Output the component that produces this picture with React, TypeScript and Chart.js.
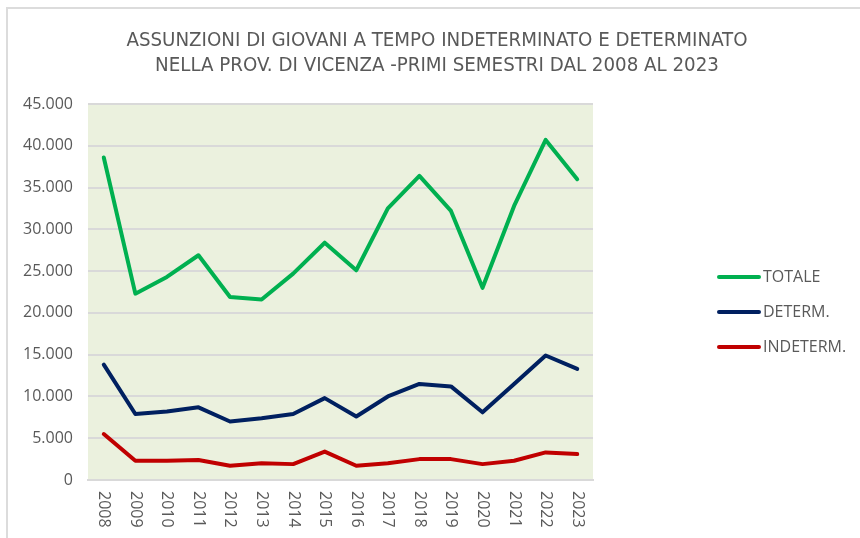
import React, { useEffect, useRef } from "react";
import { Chart, registerables } from "chart.js";

Chart.register(...registerables);

const years = ["2008", "2009", "2010", "2011", "2012", "2013", "2014", "2015", "2016", "2017", "2018", "2019", "2020", "2021", "2022", "2023"];
const totale = [38600, 22300, 24300, 26900, 21900, 21600, 24700, 28400, 25100, 32500, 36400, 32200, 23000, 32800, 40700, 36000];
const determ = [13800, 7900, 8200, 8700, 7000, 7400, 7900, 9800, 7600, 10000, 11500, 11200, 8100, 11500, 14900, 13300];
const indeterm = [5500, 2300, 2300, 2400, 1700, 2000, 1900, 3400, 1700, 2000, 2500, 2500, 1900, 2300, 3300, 3100];
const titleLines = [
  "ASSUNZIONI DI GIOVANI A TEMPO INDETERMINATO E DETERMINATO",
  "NELLA PROV. DI VICENZA -PRIMI SEMESTRI DAL 2008 AL 2023",
];
const seriesLabels = ["TOTALE", "DETERM.", "INDETERM."];
const seriesColors = ["#00B050", "#002060", "#C00000"];

const TEXT = "#595959";
const FONT = "'Open Sans', 'Liberation Sans', sans-serif";

function fmt(v: number): string {
  return String(v).replace(/\B(?=(\d{3})+(?!\d))/g, ".");
}

const decorPlugin = {
  id: "decor",
  beforeDraw(chart: any) {
    const { ctx, chartArea } = chart;
    ctx.save();
    ctx.fillStyle = "#EBF1DE";
    ctx.fillRect(chartArea.left, chartArea.top, chartArea.right - chartArea.left, chartArea.bottom - chartArea.top);
    ctx.restore();
  },
  afterDraw(chart: any) {
    const { ctx } = chart;
    ctx.save();
    // title
    ctx.fillStyle = TEXT;
    ctx.textAlign = "center";
    ctx.textBaseline = "middle";
    ctx.font = "20.3px 'Liberation Sans Narrow', 'DejaVu Sans Condensed', sans-serif";
    ctx.fillText(titleLines[0], 437, 41);
    ctx.fillText(titleLines[1], 437, 66);
    // x labels, rotated clockwise
    const xs = chart.scales.x;
    ctx.font = "16px " + FONT;
    ctx.textAlign = "left";
    years.forEach((y, i) => {
      const x = xs.getPixelForValue(i);
      ctx.save();
      ctx.translate(x, 491);
      ctx.rotate(Math.PI / 2);
      ctx.fillText(y, 0, 0);
      ctx.restore();
    });
    // legend
    const ys = [277, 312, 347];
    ctx.font = "16px " + FONT;
    chart.data.datasets.forEach((ds: any, i: number) => {
      ctx.strokeStyle = ds.borderColor;
      ctx.lineWidth = 4;
      ctx.lineCap = "round";
      ctx.beginPath();
      ctx.moveTo(719, ys[i]);
      ctx.lineTo(759, ys[i]);
      ctx.stroke();
      ctx.fillStyle = TEXT;
      ctx.textAlign = "left";
      ctx.textBaseline = "middle";
      ctx.fillText(ds.label, 763, ys[i]);
    });
    ctx.restore();
  },
};

export default function App() {
  const ref = useRef<HTMLCanvasElement>(null);
  useEffect(() => {
    if (!ref.current) return;
    const mk = (data: number[], i: number) => ({
      label: seriesLabels[i],
      data,
      borderColor: seriesColors[i],
      backgroundColor: seriesColors[i],
      borderWidth: 4,
      pointRadius: 0,
      tension: 0,
      borderCapStyle: "round" as const,
      borderJoinStyle: "round" as const,
    });
    const chart = new Chart(ref.current, {
      type: "line",
      data: {
        labels: years,
        datasets: [mk(totale, 0), mk(determ, 1), mk(indeterm, 2)],
      },
      options: {
        responsive: false,
        animation: false,
        devicePixelRatio: 1,
        layout: { padding: { top: 104, right: 267, left: 0, bottom: 0 } },
        plugins: { legend: { display: false }, title: { display: false }, tooltip: { enabled: false } },
        scales: {
          x: {
            offset: true,
            grid: { display: false },
            border: { display: true, color: "#D9D9D9", width: 2 },
            ticks: { display: false },
            afterFit(scale: any) {
              scale.height = 58;
            },
          },
          y: {
            min: 0,
            max: 45000,
            grid: { color: "#D9D9D9", lineWidth: 2, drawTicks: false },
            border: { display: false },
            ticks: {
              stepSize: 5000,
              padding: 15,
              color: TEXT,
              font: { family: FONT, size: 16 },
              callback: (v: any) => fmt(Number(v)),
            },
            afterFit(scale: any) {
              scale.width = 88;
            },
          },
        },
      },
      plugins: [decorPlugin],
    });
    return () => chart.destroy();
  }, []);
  return (
    <div style={{ position: "absolute", left: 0, top: 0, width: 860, height: 538, background: "#fff", overflow: "hidden" }}>
      <canvas ref={ref} width={860} height={538} style={{ position: "absolute", left: 0, top: 0 }} />
      <div style={{ position: "absolute", left: 6, top: 7, width: 900, height: 600, borderTop: "2px solid #DCDCDC", borderLeft: "2px solid #DCDCDC", pointerEvents: "none" }} />
    </div>
  );
}
